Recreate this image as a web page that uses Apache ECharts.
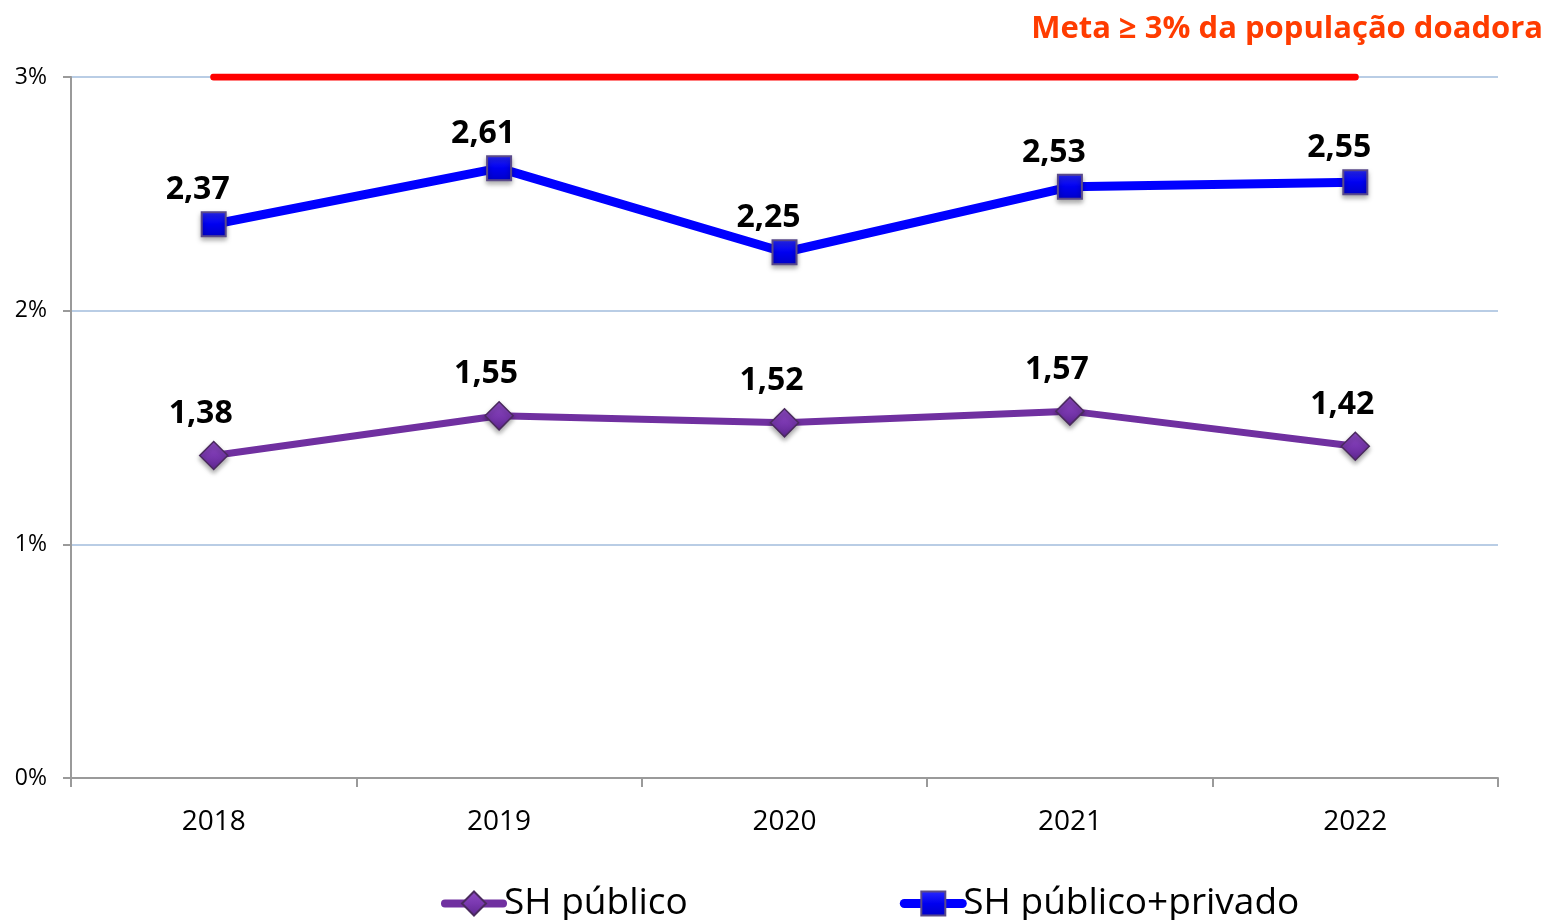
<!DOCTYPE html>
<html>
<head>
<meta charset="utf-8">
<title>SH público / privado</title>
<script src="https://cdn.jsdelivr.net/npm/echarts@6/dist/echarts.min.js"></script>
<style>
  html, body { margin: 0; padding: 0; background: #fff; }
  #chart { width: 1550px; height: 920px; }
</style>
</head>
<body>
<div id="chart"></div>
<script>
// dados
const years = ['2018', '2019', '2020', '2021', '2022'];
const shPublico = [1.38, 1.55, 1.52, 1.57, 1.42];
const shPublicoPrivado = [2.37, 2.61, 2.25, 2.53, 2.55];
const meta = [3, 3, 3, 3, 3];
const yTicks = [0, 1, 2, 3];

const chart = echarts.init(document.getElementById('chart'));
const font = '"Open Sans", "Noto Sans", sans-serif';

const fmt = p => String(p.value).replace('.', ',');

chart.setOption({
  animation: false,
  textStyle: { fontFamily: font },
  title: {
    text: 'Meta ≥ 3% da população doadora',
    right: 2,
    top: 9,
    textStyle: { color: '#FF3C00', fontSize: 31, fontWeight: 'bold', fontFamily: font }
  },
  grid: { left: 71, right: 52, top: 77, bottom: 142 },
  legend: {
    data: [
      { name: 'SH público', lineStyle: { width: 8, cap: 'round' } },
      { name: 'SH público+privado', lineStyle: { width: 9, cap: 'round' } }
    ],
    left: 436,
    top: 880,
    itemWidth: 58,
    itemHeight: 30,
    itemGap: 212,
    textStyle: { fontSize: 37, color: '#000', fontFamily: font, padding: [0, 0, 0, -4] }
  },
  xAxis: {
    type: 'category',
    data: years,
    boundaryGap: true,
    axisLine: { lineStyle: { color: '#9a9a9a', width: 2 } },
    axisTick: { show: true, length: 9, lineStyle: { color: '#9a9a9a', width: 2 } },
    axisLabel: { fontSize: 28, color: '#000', margin: 30 }
  },
  yAxis: {
    type: 'value',
    min: yTicks[0],
    max: yTicks[yTicks.length - 1],
    interval: 1,
    axisLine: { show: true, lineStyle: { color: '#9a9a9a', width: 2 } },
    axisTick: { show: true, length: 8, lineStyle: { color: '#9a9a9a', width: 2 } },
    axisLabel: { fontSize: 23, color: '#000', margin: 24, formatter: '{value}%' },
    splitLine: { lineStyle: { color: '#B9CDE5', width: 2 } }
  },
  series: [
    {
      name: 'Meta',
      type: 'line',
      data: meta,
      symbol: 'none',
      silent: true,
      z: 1,
      lineStyle: { color: '#FF0000', width: 7, cap: 'round' }
    },
    {
      name: 'SH público',
      type: 'line',
      data: shPublico,
      symbol: 'diamond',
      symbolSize: [28, 28],
      z: 3,
      lineStyle: { color: '#7030A0', width: 7 },
      itemStyle: {
        color: new echarts.graphic.LinearGradient(0, 0, 0, 1, [
          { offset: 0, color: '#8F4CC4' },
          { offset: 0.5, color: '#7A38B0' },
          { offset: 1, color: '#5E2690' }
        ]),
        borderColor: '#4A2A5E',
        borderWidth: 1.5,
        shadowColor: 'rgba(0,0,0,0.35)',
        shadowBlur: 5,
        shadowOffsetY: 3
      },
      label: {
        show: true,
        position: 'top',
        distance: 11,
        offset: [-13, 0],
        formatter: fmt,
        fontSize: 32,
        fontWeight: 'bold',
        color: '#000'
      }
    },
    {
      name: 'SH público+privado',
      type: 'line',
      data: shPublicoPrivado,
      symbol: 'rect',
      symbolSize: [24, 24],
      z: 3,
      lineStyle: { color: '#0000FF', width: 9 },
      itemStyle: {
        color: new echarts.graphic.LinearGradient(0, 0, 0, 1, [
          { offset: 0, color: '#2A2AFF' },
          { offset: 0.5, color: '#0000F0' },
          { offset: 1, color: '#0000C8' }
        ]),
        borderColor: '#5A4A8A',
        borderWidth: 2,
        shadowColor: 'rgba(0,0,0,0.35)',
        shadowBlur: 5,
        shadowOffsetY: 3
      },
      label: {
        show: true,
        position: 'top',
        distance: 5,
        offset: [-16, 0],
        formatter: fmt,
        fontSize: 32,
        fontWeight: 'bold',
        color: '#000'
      }
    }
  ]
});
</script>
</body>
</html>
